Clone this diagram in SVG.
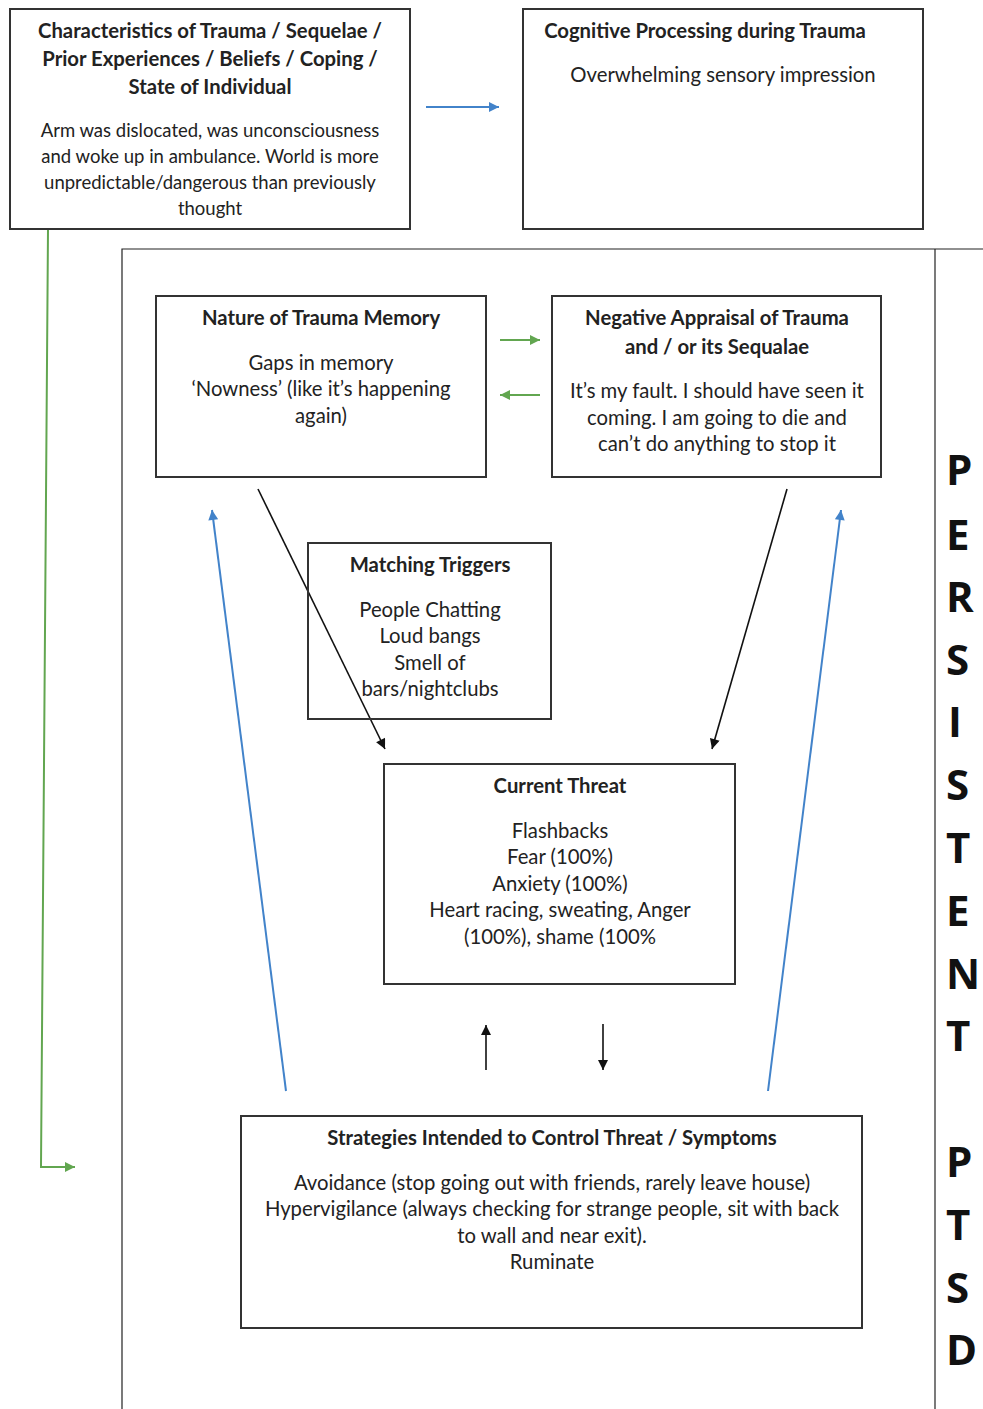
<svg xmlns="http://www.w3.org/2000/svg" width="983" height="1409" viewBox="0 0 983 1409">
<defs>
<style>
.box{fill:#fff;stroke:#333;stroke-width:2}
.frame{fill:none;stroke:#222;stroke-width:1.2}
.h{font-family:Lato,"Liberation Sans",sans-serif;font-weight:bold;font-size:20.3px;fill:#222;text-anchor:middle}
.t{font-family:Lato,"Liberation Sans",sans-serif;font-size:20.3px;fill:#222;text-anchor:middle}
.s{font-family:Lato,"Liberation Sans",sans-serif;font-size:18.5px;fill:#222;text-anchor:middle}
.big{font-family:"Open Sans","Liberation Sans",sans-serif;font-weight:bold;font-size:42px;fill:#111}
.blue{stroke:#4283ca;stroke-width:2;fill:none}
.green{stroke:#62a650;stroke-width:2;fill:none}
.black{stroke:#111;stroke-width:1.6;fill:none}
</style>
<marker id="ab" viewBox="0 0 10 10" refX="10" refY="5" markerWidth="12" markerHeight="10" markerUnits="userSpaceOnUse" orient="auto"><path d="M0,0 L10,5 L0,10 Z" fill="#4283ca"/></marker>
<marker id="ag" viewBox="0 0 10 10" refX="10" refY="5" markerWidth="12" markerHeight="10" markerUnits="userSpaceOnUse" orient="auto"><path d="M0,0 L10,5 L0,10 Z" fill="#62a650"/></marker>
<marker id="ak" viewBox="0 0 10 10" refX="10" refY="5" markerWidth="12" markerHeight="10" markerUnits="userSpaceOnUse" orient="auto"><path d="M0,0 L10,5 L0,10 Z" fill="#111"/></marker>
</defs>
<rect width="983" height="1409" fill="#fff"/>

<g id="frame">
<path class="frame" d="M122,1409 V249 H983"/>
<path class="frame" d="M935,249 V1409"/>
</g>

<g id="connectors">
<line class="blue" x1="426" y1="107" x2="499" y2="107" marker-end="url(#ab)"/>
<polyline class="green" points="48,229 41,1167 75,1167" marker-end="url(#ag)"/>
<line class="green" x1="500" y1="340" x2="540" y2="340" marker-end="url(#ag)"/>
<line class="green" x1="540" y1="395" x2="500" y2="395" marker-end="url(#ag)"/>
<line class="black" x1="258" y1="489" x2="385" y2="749" marker-end="url(#ak)"/>
<line class="black" x1="787" y1="489" x2="712" y2="749" marker-end="url(#ak)"/>
<line class="black" x1="486" y1="1070" x2="486" y2="1025" marker-end="url(#ak)"/>
<line class="black" x1="603" y1="1024" x2="603" y2="1070" marker-end="url(#ak)"/>
<line class="blue" x1="286" y1="1091" x2="212" y2="510" marker-end="url(#ab)"/>
<line class="blue" x1="768" y1="1091" x2="841" y2="510" marker-end="url(#ab)"/>
</g>

<g id="characteristics">
<rect class="box" x="10" y="9" width="400" height="220"/>
<text class="h" x="210" y="38">Characteristics of Trauma / Sequelae /</text>
<text class="h" x="210" y="66">Prior Experiences / Beliefs / Coping /</text>
<text class="h" x="210" y="94">State of Individual</text>
<text class="s" x="210" y="137">Arm was dislocated, was unconsciousness</text>
<text class="s" x="210" y="163">and woke up in ambulance. World is more</text>
<text class="s" x="210" y="189">unpredictable/dangerous than previously</text>
<text class="s" x="210" y="215">thought</text>
</g>

<g id="cognitive">
<rect class="box" x="523" y="9" width="400" height="220"/>
<text class="h" x="705" y="38">Cognitive Processing during Trauma</text>
<text class="t" x="723" y="82">Overwhelming sensory impression</text>
</g>

<g id="nature">
<rect class="box" x="156" y="296" width="330" height="181"/>
<text class="h" x="321" y="325">Nature of Trauma Memory</text>
<text class="t" x="321" y="370">Gaps in memory</text>
<text class="t" x="321" y="396">‘Nowness’ (like it’s happening</text>
<text class="t" x="321" y="423">again)</text>
</g>

<g id="negative">
<rect class="box" x="552" y="296" width="329" height="181"/>
<text class="h" x="717" y="325">Negative Appraisal of Trauma</text>
<text class="h" x="717" y="354">and / or its Sequalae</text>
<text class="t" x="717" y="398">It’s my fault. I should have seen it</text>
<text class="t" x="717" y="425">coming. I am going to die and</text>
<text class="t" x="717" y="451">can’t do anything to stop it</text>
</g>

<g id="triggers">
<rect class="box" x="308" y="543" width="243" height="176" fill-opacity="0"/>
<text class="h" x="430" y="572">Matching Triggers</text>
<text class="t" x="430" y="617">People Chatting</text>
<text class="t" x="430" y="643">Loud bangs</text>
<text class="t" x="430" y="670">Smell of</text>
<text class="t" x="430" y="696">bars/nightclubs</text>
</g>

<g id="threat">
<rect class="box" x="384" y="764" width="351" height="220"/>
<text class="h" x="560" y="793">Current Threat</text>
<text class="t" x="560" y="838">Flashbacks</text>
<text class="t" x="560" y="864">Fear (100%)</text>
<text class="t" x="560" y="891">Anxiety (100%)</text>
<text class="t" x="560" y="917">Heart racing, sweating, Anger</text>
<text class="t" x="560" y="944">(100%), shame (100%</text>
</g>

<g id="strategies">
<rect class="box" x="241" y="1116" width="621" height="212"/>
<text class="h" x="552" y="1145">Strategies Intended to Control Threat / Symptoms</text>
<text class="t" x="552" y="1190">Avoidance (stop going out with friends, rarely leave house)</text>
<text class="t" x="552" y="1216">Hypervigilance (always checking for strange people, sit with back</text>
<text class="t" x="552" y="1243">to wall and near exit).</text>
<text class="t" x="552" y="1269">Ruminate</text>
</g>

<g id="label">
<text class="big" x="946" y="485">P</text>
<text class="big" x="946" y="550">E</text>
<text class="big" x="946" y="612">R</text>
<text class="big" x="946" y="675">S</text>
<text class="big" x="948" y="737">I</text>
<text class="big" x="946" y="800">S</text>
<text class="big" x="946" y="863">T</text>
<text class="big" x="946" y="926">E</text>
<text class="big" x="946" y="989">N</text>
<text class="big" x="946" y="1051">T</text>
<text class="big" x="946" y="1177">P</text>
<text class="big" x="946" y="1240">T</text>
<text class="big" x="946" y="1303">S</text>
<text class="big" x="946" y="1365">D</text>
</g>
</svg>
